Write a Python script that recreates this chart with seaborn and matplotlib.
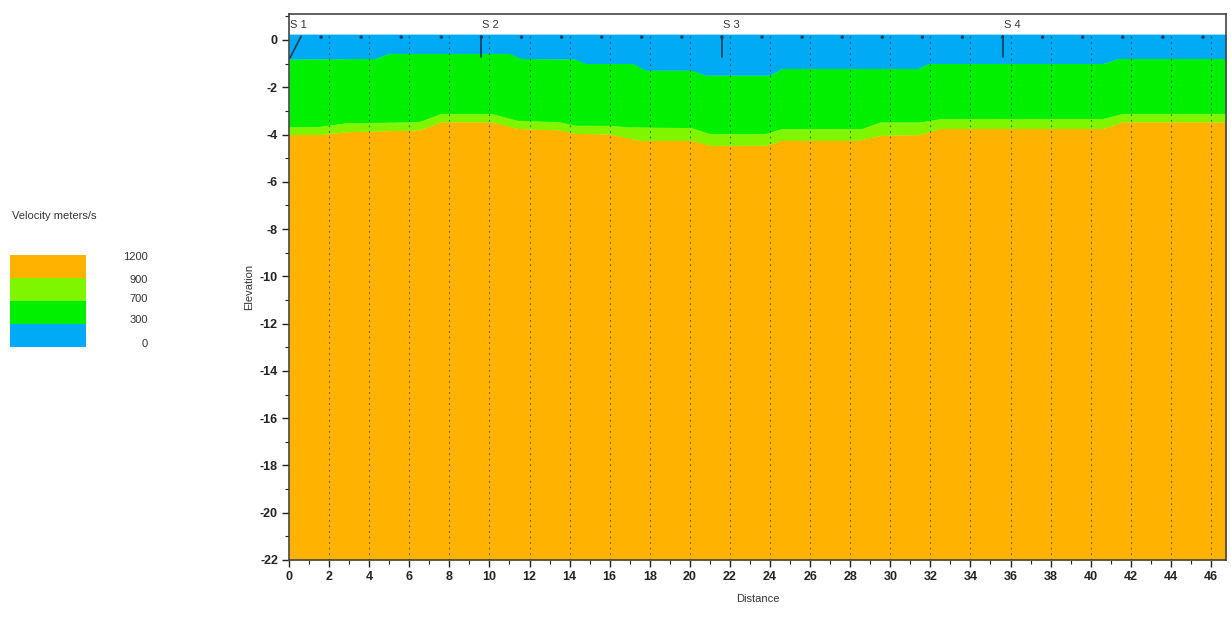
import numpy as np
import pandas as pd
import matplotlib
matplotlib.use("Agg")
import matplotlib.pyplot as plt
from matplotlib.ticker import MultipleLocator
import seaborn as sns

# ---- data ----
surface_elev = 0.25
bottom_elev = -22.0
# boundary between 0-300 (blue) and 300-700 (green)
b1_x = [0, 4.3, 5.0, 11.0, 11.6, 14.3, 14.8, 17.2, 17.8, 20.1, 20.8, 24.0, 24.6, 31.4, 31.9, 40.6, 41.4, 46.75]
b1_y = [-0.8, -0.78, -0.56, -0.56, -0.78, -0.8, -0.99, -0.99, -1.27, -1.27, -1.48, -1.48, -1.2, -1.2, -0.99, -0.99, -0.78, -0.78]
# boundary between 300-700 (green) and 700-900 (lime)
b2_x = [0, 1.5, 2.8, 6.5, 7.6, 10.1, 11.4, 13.5, 14.3, 16.0, 17.0, 20.1, 21.0, 23.8, 24.6, 28.6, 29.5, 31.5, 32.5, 40.6, 41.6, 46.75]
b2_y = [-3.67, -3.65, -3.5, -3.45, -3.1, -3.1, -3.39, -3.45, -3.6, -3.6, -3.67, -3.7, -3.95, -3.95, -3.74, -3.74, -3.46, -3.46, -3.32, -3.32, -3.1, -3.1]
# boundary between 700-900 (lime) and 900-1200 (orange)
b3_x = [0, 1.5, 2.8, 6.5, 7.6, 10.1, 11.4, 13.5, 14.3, 16.0, 17.5, 20.1, 21.0, 23.8, 24.6, 28.4, 29.5, 31.5, 32.5, 40.6, 41.6, 46.75]
b3_y = [-4.0, -4.0, -3.88, -3.8, -3.46, -3.46, -3.74, -3.8, -3.95, -3.97, -4.24, -4.24, -4.45, -4.45, -4.24, -4.24, -4.03, -4.0, -3.74, -3.74, -3.46, -3.46]

geophone_x = [1.6 + 2 * k for k in range(23)]
shot_labels = ["S 1", "S 2", "S 3", "S 4"]
shot_x = [0.0, 9.6, 21.6, 35.6]

legend_values = ["1200", "900", "700", "300", "0"]
layer_colors = ["#FFB300", "#80F500", "#00F000", "#00AAF5"]  # orange, lime, green, blue (top to bottom in legend)

x_max = 46.75

# ---- figure ----
sns.set_theme(style="white")
plt.rcParams['font.family'] = ['Liberation Sans', 'DejaVu Sans']
plt.rcParams['axes.unicode_minus'] = False

fig = plt.figure(figsize=(12.31, 6.26), dpi=100)
ax = fig.add_axes([289 / 1231, 66 / 626, (1226 - 289) / 1231, (560 - 14) / 626])

xs = np.linspace(0, x_max, 800)
y1 = np.interp(xs, b1_x, b1_y)
y2 = np.interp(xs, b2_x, b2_y)
y3 = np.interp(xs, b3_x, b3_y)

ax.fill_between(xs, surface_elev, y1, color=layer_colors[3], lw=0)
ax.fill_between(xs, y1, y2, color=layer_colors[2], lw=0)
ax.fill_between(xs, y2, y3, color=layer_colors[1], lw=0)
ax.fill_between(xs, y3, bottom_elev, color=layer_colors[0], lw=0)

bdf = pd.DataFrame({"x": xs, "b1": y1, "b2": y2, "b3": y3})
sns.lineplot(data=bdf, x="x", y="b1", ax=ax, color=layer_colors[3], lw=0.8)
sns.lineplot(data=bdf, x="x", y="b2", ax=ax, color=layer_colors[2], lw=0.8)
sns.lineplot(data=bdf, x="x", y="b3", ax=ax, color=layer_colors[1], lw=0.8)

# vertical dotted grid lines at even distances
for gx in np.arange(2, 47, 2):
    ax.plot([gx, gx], [bottom_elev, surface_elev], color="#3a3a3a", lw=0.8,
            ls=(0, (1.5, 3.5)), alpha=0.75, zorder=3)

# geophones
sns.scatterplot(x=geophone_x, y=[0.12] * len(geophone_x), ax=ax, color="#1a3a55",
                s=6, edgecolor="none", zorder=4)

# shots
for lbl, sx in zip(shot_labels, shot_x):
    ax.text(sx + 0.05, 0.62, lbl, fontsize=8, color="#333333", ha="left", va="center")
    if sx > 0:
        ax.plot([sx, sx], [0.15, -0.7], color="#1a3a55", lw=1.2, zorder=4)
ax.plot([0.05, 0.6], [-0.75, 0.15], color="#1a3a55", lw=1.2, zorder=4)

ax.set_xlim(0, x_max)
ax.set_ylim(bottom_elev, 1.1)
ax.xaxis.set_major_locator(MultipleLocator(2))
ax.xaxis.set_minor_locator(MultipleLocator(1))
ax.yaxis.set_major_locator(MultipleLocator(2))
ax.yaxis.set_minor_locator(MultipleLocator(1))
ax.tick_params(which="major", direction="out", length=5, width=1, color="#222222",
               labelsize=9, pad=3, bottom=True, left=True)
ax.tick_params(which="minor", direction="out", length=3, width=0.8, color="#222222",
               bottom=True, left=True)
for lab in ax.get_xticklabels() + ax.get_yticklabels():
    lab.set_fontweight("bold")
    lab.set_color("#222222")
ax.set_xlabel("Distance", fontsize=8, color="#333333", labelpad=8)
ax.set_ylabel("Elevation", fontsize=8, color="#333333", labelpad=4)
for sp in ax.spines.values():
    sp.set_color("#444444")
    sp.set_linewidth(1.2)

# legend color bar
lax = fig.add_axes([10 / 1231, (626 - 347) / 626, 76 / 1231, 92 / 626])
leg_df = pd.DataFrame({"pos": [3, 2, 1, 0], "w": [1, 1, 1, 1]})
lax.barh(leg_df["pos"], leg_df["w"], height=1.0, color=layer_colors, lw=0)
lax.set_xlim(0, 1)
lax.set_ylim(-0.5, 3.5)
lax.axis("off")
fig.text(12 / 1231, 1 - 216 / 626, "Velocity meters/s", fontsize=8, color="#333333",
         ha="left", va="center")
label_py = [257, 280, 299, 320, 344]
for v, py in zip(legend_values, label_py):
    fig.text(148 / 1231, 1 - py / 626, v, fontsize=8, color="#333333", ha="right", va="center")

fig.savefig("out.png", dpi=100)
